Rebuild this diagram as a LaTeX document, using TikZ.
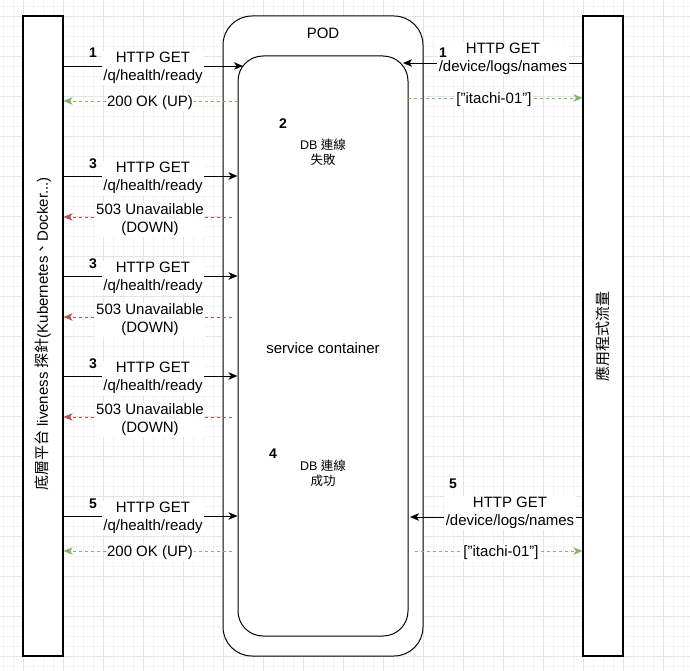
\documentclass[tikz,border=0pt]{standalone}
\usepackage{fontspec}
\setmainfont{Liberation Sans}
\newfontfamily\cjk{Noto Sans CJK TC}
\usetikzlibrary{arrows.meta}
\definecolor{okgreen}{HTML}{82B366}
\definecolor{errred}{HTML}{B85450}
\definecolor{gridmajor}{HTML}{E4E4E4}
\definecolor{gridminor}{HTML}{F4F4F4}
\begin{document}
\begin{tikzpicture}[x=1pt,y=-1pt,
  lbl/.style={fill=white, align=center, inner sep=1.5pt, yshift=-2pt, font=\fontsize{15}{18}\selectfont},
  small/.style={align=center, inner sep=0pt, yshift=-1.5pt, font=\fontsize{12.5}{15}\selectfont},
  num/.style={inner sep=0pt, yshift=-1.5pt, font=\fontsize{14}{16}\selectfont\bfseries},
  plain/.style={inner sep=0pt, yshift=-1.5pt, font=\fontsize{15}{18}\selectfont},
  lane/.style={draw=black, line width=1.1pt, fill=white, minimum width=40pt, minimum height=640pt, inner sep=0pt},
  req/.style={draw=black, line width=0.9pt, -{Stealth[length=9pt,width=7.5pt,inset=2.5pt]}},
  okresp/.style={draw=okgreen, line width=0.9pt, dash pattern=on 3pt off 3pt, -{Stealth[length=9pt,width=7.5pt,inset=2.5pt]}},
  errresp/.style={draw=errred, line width=0.9pt, dash pattern=on 3pt off 3pt, -{Stealth[length=9pt,width=7.5pt,inset=2.5pt]}}
]
\useasboundingbox (0,0) rectangle (690,671);
\fill[white] (0,0) rectangle (690,671);
% grid
\foreach \x in {3,13,...,683} \draw[gridminor, line width=0.6pt] (\x,0) -- (\x,671);
\foreach \y in {6,16,...,666} \draw[gridminor, line width=0.6pt] (0,\y) -- (690,\y);
\foreach \x in {23,63,...,663} \draw[gridmajor, line width=0.8pt] (\x,0) -- (\x,671);
\foreach \y in {16,56,...,656} \draw[gridmajor, line width=0.8pt] (0,\y) -- (690,\y);

% lanes
\node[lane] (L) at (43,336) {};
\node[lane] (R) at (603,336) {};
\node[rotate=90, inner sep=0pt, font=\fontsize{15}{18}\selectfont] (Ltxt) at (43,334)
  {{\cjk 底層平台} liveness {\cjk 探針}(Kubernetes{\cjk 、}Docker...)};
\node[rotate=90, inner sep=0pt, font=\fontsize{15}{18}\selectfont\cjk] (Rtxt) at (R.center) {應用程式流量};

% pod and container
\node[draw=black, line width=1pt, fill=white, rounded corners=29pt, minimum width=200pt, minimum height=640pt, inner sep=0pt] (pod) at (323,336) {};
\node[draw=black, line width=1pt, fill=white, rounded corners=25pt, minimum width=170pt, minimum height=580pt, inner sep=0pt] (ctr) at (323,346) {};
\node[plain] (podlbl) at (323,32) {POD};
\node[plain] (ctrlbl) at (323,347) {service container};
\node[num] (n2) at (283,122) {2};
\node[small] (db1) at (323,151) {DB {\cjk 連線}\\{\cjk 失敗}};
\node[num] (n4) at (273,452) {4};
\node[small] (db2) at (323,472) {DB {\cjk 連線}\\{\cjk 成功}};

% coordinates
\coordinate (l1) at (L.east |- 0,66);   \coordinate (c1) at (243,66);
\coordinate (l2) at (L.east |- 0,101);  \coordinate (c2) at (238,101);
\coordinate (l3) at (L.east |- 0,176);  \coordinate (c3) at (ctr.west |- 0,176);
\coordinate (l4) at (L.east |- 0,217);  \coordinate (c4) at (232,217);
\coordinate (l5) at (L.east |- 0,276);  \coordinate (c5) at (ctr.west |- 0,276);
\coordinate (l6) at (L.east |- 0,317);  \coordinate (c6) at (232,317);
\coordinate (l7) at (L.east |- 0,376);  \coordinate (c7) at (ctr.west |- 0,376);
\coordinate (l8) at (L.east |- 0,417);  \coordinate (c8) at (232,417);
\coordinate (l9) at (L.east |- 0,516);  \coordinate (c9) at (ctr.west |- 0,516);
\coordinate (l10) at (L.east |- 0,551); \coordinate (c10) at (232,551);
\coordinate (r1) at (R.west |- 0,63);   \coordinate (d1) at (403,63);
\coordinate (r2) at (R.west |- 0,98);   \coordinate (d2) at (408,98);
\coordinate (r3) at (R.west |- 0,517);  \coordinate (d3) at (410,517);
\coordinate (r4) at (R.west |- 0,551);  \coordinate (d4) at (415,551);

% left side
\draw[req] (l1) -- (c1);
\node[lbl] (t1) at (153,66) {HTTP GET\\/q/health/ready};
\node[num] (n1a) at (93,51) {1};
\draw[okresp] (c2) -- (l2);
\node[lbl] (t2) at (150,101) {200 OK (UP)};

\draw[req] (l3) -- (c3);
\node[lbl] (t3) at (153,176) {HTTP GET\\/q/health/ready};
\node[num] (n3a) at (93,162) {3};
\draw[errresp] (c4) -- (l4);
\node[lbl] (t4) at (150,218) {503 Unavailable\\(DOWN)};

\draw[req] (l5) -- (c5);
\node[lbl] (t5) at (153,276) {HTTP GET\\/q/health/ready};
\node[num] (n3b) at (93,262) {3};
\draw[errresp] (c6) -- (l6);
\node[lbl] (t6) at (150,318) {503 Unavailable\\(DOWN)};

\draw[req] (l7) -- (c7);
\node[lbl] (t7) at (153,376) {HTTP GET\\/q/health/ready};
\node[num] (n3c) at (93,362) {3};
\draw[errresp] (c8) -- (l8);
\node[lbl] (t8) at (150,418) {503 Unavailable\\(DOWN)};

\draw[req] (l9) -- (c9);
\node[lbl] (t9) at (153,516) {HTTP GET\\/q/health/ready};
\node[num] (n5a) at (93,502) {5};
\draw[okresp] (c10) -- (l10);
\node[lbl] (t10) at (150,551) {200 OK (UP)};

% right side
\draw[req] (r1) -- (d1);
\node[lbl] (u1) at (503,57) {HTTP GET\\/device/logs/names};
\node[num] (n1b) at (443,51) {1};
\draw[okresp] (d2) -- (r2);
\node[lbl] (u2) at (494,98) {["itachi-01"]};

\draw[req] (r3) -- (d3);
\node[lbl] (u3) at (510,511) {HTTP GET\\/device/logs/names};
\node[num] (n5b) at (453,482) {5};
\draw[okresp] (d4) -- (r4);
\node[lbl] (u4) at (501,551) {["itachi-01"]};
\end{tikzpicture}
\end{document}
